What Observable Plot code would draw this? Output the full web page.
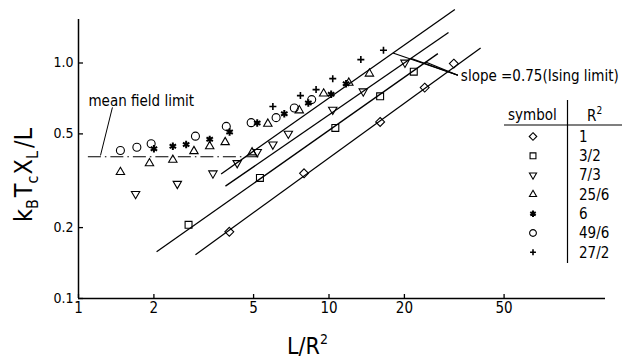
<!DOCTYPE html>
<html><head><meta charset="utf-8">
<script src="https://cdn.jsdelivr.net/npm/d3@7"></script>
<script src="https://cdn.jsdelivr.net/npm/@observablehq/plot@0.6"></script>
<style>
body{margin:0;background:#fff;}
#chart{width:624px;height:360px;}
</style></head><body><div id="chart"></div>
<script>
const FONT = '"DejaVu Sans Condensed","Liberation Sans Narrow","DejaVu Sans",sans-serif';

// axis ticks
const xTicks = [1, 2, 5, 10, 20, 50];
const yTicks = [0.1, 0.2, 0.5, 1.0];

// R² = 1 (diamond)
const s1X = [4.0, 7.95, 16.0, 24.1, 31.5];
const s1Y = [0.192, 0.340, 0.562, 0.786, 0.994];
// R² = 3/2 (square)
const s2X = [2.75, 5.30, 10.6, 16.0, 21.8];
const s2Y = [0.2055, 0.325, 0.530, 0.722, 0.919];
// R² = 7/3 (down triangle)
const s3X = [1.69, 2.48, 3.44, 4.30, 5.17, 5.97, 6.88, 10.35, 13.7, 20.1];
const s3Y = [0.278, 0.307, 0.340, 0.376, 0.419, 0.451, 0.501, 0.634, 0.758, 1.004];
// R² = 25/6 (up triangle)
const s4X = [1.47, 1.92, 2.38, 2.89, 3.34, 3.85, 4.93, 5.70, 7.61, 9.52, 12.0, 14.5];
const s4Y = [0.344, 0.375, 0.388, 0.422, 0.443, 0.461, 0.417, 0.552, 0.629, 0.741, 0.824, 0.901];
// R² = 6 (asterisk)
const s5X = [2.00, 2.38, 2.69, 3.34, 4.01, 5.17, 6.63, 8.27, 10.2, 11.7];
const s5Y = [0.432, 0.443, 0.451, 0.474, 0.509, 0.556, 0.609, 0.676, 0.736, 0.817];
// R² = 49/6 (circle)
const s6X = [1.47, 1.71, 1.95, 2.93, 3.89, 4.89, 6.15, 7.27, 8.53];
const s6Y = [0.425, 0.439, 0.454, 0.489, 0.538, 0.558, 0.586, 0.644, 0.699];
// R² = 27/2 (plus)
const s7X = [5.97, 7.69, 8.88, 10.35, 13.4, 16.5];
const s7Y = [0.654, 0.727, 0.771, 0.858, 1.034, 1.133];

// fitted slope-0.75 lines (endpoints)
const fitX0 = [3.71, 3.86, 2.05, 2.93];
const fitY0 = [0.338, 0.300, 0.158, 0.1535];
const fitX1 = [31.8, 30.0, 27.2, 40.3];
const fitY1 = [1.687, 1.347, 1.096, 1.159];

// mean field limit
const mfX = [1.09, 5.36];
const mfY = 0.40;

// annotations
const mfLabel = {x: 1.096, y: 0.69, text: "mean field limit"};
const mfLeader = {x1: 1.366, y1: 0.648, x2: 1.224, y2: 0.405};
const slopeLabel = {x: 33.6, y: 0.878, text: "slope =0.75(Ising limit)"};
const slopeLeadX = [18.0, 21.2, 24.3];
const slopeLeadY = [1.103, 1.046, 1.010];
const slopeTip = {x: 32.7, y: 0.887};

// legend
const legendLabels = ["1", "3/2", "7/3", "25/6", "6", "49/6", "27/2"];

const triDown = {
  draw(context, size) {
    const s = Math.sqrt(size) * 0.6824, t = s / 2, u = s * Math.sqrt(3) / 2;
    context.moveTo(0, s); context.lineTo(u, -t); context.lineTo(-u, -t); context.closePath();
  }
};

const series = [
  {X: s1X, Y: s1Y, symbol: d3.symbolDiamond2, r: 4, sw: 1.1},
  {X: s2X, Y: s2Y, symbol: d3.symbolSquare2, r: 4.4, sw: 1.1},
  {X: s3X, Y: s3Y, symbol: triDown, r: 4, sw: 1.1},
  {X: s4X, Y: s4Y, symbol: d3.symbolTriangle2, r: 4, sw: 1.1},
  {X: s5X, Y: s5Y, symbol: d3.symbolAsterisk, r: 3.5, sw: 2},
  {X: s6X, Y: s6Y, symbol: d3.symbolCircle, r: 4, sw: 1.1},
  {X: s7X, Y: s7Y, symbol: d3.symbolPlus, r: 2.4, sw: 1.6}
];

const fits = fitX0.map((x, i) => ({x1: x, y1: fitY0[i], x2: fitX1[i], y2: fitY1[i]}));
const leaders = slopeLeadX.map((x, i) => ({x1: x, y1: slopeLeadY[i], x2: slopeTip.x, y2: slopeTip.y}));

const plot = Plot.plot({
  width: 624, height: 360,
  marginLeft: 78, marginRight: 19, marginTop: 19, marginBottom: 62,
  x: {type: "log", domain: [1, 127], axis: null},
  y: {type: "log", domain: [0.1, 1.53], axis: null},
  style: {fontFamily: FONT, background: "white", color: "black"},
  marks: [
    // axes drawn explicitly (inward ticks)
    Plot.tickX(xTicks, {x: d => d, insetTop: 275, stroke: "black", strokeWidth: 1.3}),
    Plot.text(xTicks, {x: d => d, frameAnchor: "bottom", dy: 14.5, text: d => String(d), fontSize: 15}),
    Plot.tickY(yTicks, {y: d => d, insetRight: 522, stroke: "black", strokeWidth: 1.3}),
    Plot.text(yTicks, {y: d => d, frameAnchor: "left", dx: -5, textAnchor: "end", text: d => d.toFixed(1), fontSize: 14}),
    Plot.ruleX([1], {strokeWidth: 1.5}),
    Plot.ruleY([0.1], {strokeWidth: 1.5}),
    Plot.link(fits, {x1: "x1", y1: "y1", x2: "x2", y2: "y2", stroke: "black", strokeWidth: 1.3}),
    Plot.link([0], {x1: mfX[0], x2: mfX[1], y1: mfY, y2: mfY, stroke: "black", strokeWidth: 1.1, strokeDasharray: "13,4,1.5,4"}),
    Plot.link([mfLeader], {x1: "x1", y1: "y1", x2: "x2", y2: "y2", stroke: "black", strokeWidth: 1}),
    Plot.text([mfLabel], {x: "x", y: "y", text: "text", textAnchor: "start", fontSize: 15}),
    Plot.link(leaders, {x1: "x1", y1: "y1", x2: "x2", y2: "y2", stroke: "black", strokeWidth: 1.2}),
    Plot.text([slopeLabel], {x: "x", y: "y", text: "text", textAnchor: "start", fontSize: 15}),
    ...series.map(s => Plot.dot(s.X.map((x, i) => ({x, y: s.Y[i]})), {
      x: "x", y: "y", symbol: s.symbol, r: s.r, stroke: "black", fill: "none", strokeWidth: s.sw
    }))
  ]
});

document.getElementById("chart").appendChild(plot);

// legend table and axis titles
const svg = d3.select(plot);
const g = svg.append("g").attr("font-family", FONT).attr("fill", "black").attr("text-anchor", "start");
g.append("text").attr("x", 508).attr("y", 120).attr("font-size", 15).text("symbol");
const rt = g.append("text").attr("x", 587).attr("y", 121).attr("font-size", 15);
rt.append("tspan").text("R");
rt.append("tspan").attr("font-size", 10).attr("dy", -7).text("2");
g.append("line").attr("x1", 504).attr("x2", 622).attr("y1", 125).attr("y2", 125).attr("stroke", "black").attr("stroke-width", 1.2);
g.append("line").attr("x1", 567.5).attr("x2", 567.5).attr("y1", 100).attr("y2", 263).attr("stroke", "black").attr("stroke-width", 1.2);
legendLabels.forEach((lab, i) => {
  const y = 136.5 + i * 19.3;
  const s = series[i];
  g.append("path")
    .attr("transform", `translate(533,${y})`)
    .attr("d", d3.symbol(s.symbol, Math.PI * (s.r * 0.85) ** 2)())
    .attr("fill", "none").attr("stroke", "black").attr("stroke-width", s.sw);
  g.append("text").attr("x", 579).attr("y", y).attr("dy", "0.35em").attr("font-size", 15).text(lab);
});

// x label
const xl = g.append("text").attr("x", 287).attr("y", 354).attr("font-size", 23);
xl.append("tspan").text("L/R");
xl.append("tspan").attr("font-size", 14).attr("dy", -10).text("2");

// y label
const yl = g.append("text").attr("transform", "translate(32,175) rotate(-90)").attr("text-anchor", "middle").attr("font-size", 25);
yl.append("tspan").text("k");
yl.append("tspan").attr("font-size", 16).attr("dy", 6).text("B");
yl.append("tspan").attr("dy", -6).attr("dx", 2).text("T");
yl.append("tspan").attr("font-size", 16).attr("dy", 6).text("c");
yl.append("tspan").attr("dy", -6).attr("dx", 1).text("X");
yl.append("tspan").attr("font-size", 16).attr("dy", 6).text("L");
yl.append("tspan").attr("dy", -6).attr("dx", 3).text("/L");
</script></body></html>
